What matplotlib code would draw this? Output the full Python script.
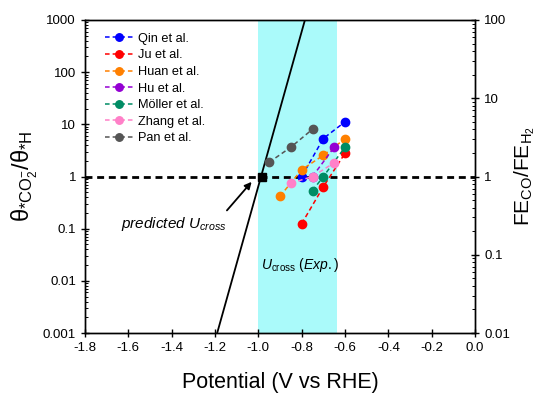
import matplotlib
matplotlib.use("Agg")
import matplotlib.pyplot as plt
from matplotlib.ticker import LogLocator, NullFormatter, FixedLocator

plt.rcParams['font.family'] = ['Liberation Sans', 'DejaVu Sans']
plt.rcParams['mathtext.fontset'] = 'custom'
plt.rcParams['mathtext.rm'] = 'Liberation Sans'
plt.rcParams['mathtext.it'] = 'Liberation Sans:italic'
plt.rcParams['mathtext.sf'] = 'Liberation Sans'

# ---- data ----
series_names = ["Qin et al.", "Ju et al.", "Huan et al.", "Hu et al.",
                "Möller et al.", "Zhang et al.", "Pan et al."]
series_colors = ["#0000FF", "#FF0000", "#FF8000", "#9400D3",
                 "#008C64", "#FF80C8", "#555555"]
qin_V = [-0.80, -0.70, -0.60];          qin_FE = [1.0, 3.06, 5.0]
ju_V = [-0.80, -0.70, -0.60];           ju_FE = [0.25, 0.74, 1.98]
huan_V = [-0.90, -0.80, -0.70, -0.60];  huan_FE = [0.56, 1.22, 1.87, 3.03]
hu_V = [-0.75, -0.65];                  hu_FE = [1.0, 2.37]
moller_V = [-0.75, -0.70, -0.60];       moller_FE = [0.66, 1.0, 2.37]
zhang_V = [-0.85, -0.75, -0.65];        zhang_FE = [0.82, 1.0, 1.50]
pan_V = [-0.95, -0.85, -0.75];          pan_FE = [1.52, 2.37, 4.02]

series_V = [qin_V, ju_V, huan_V, hu_V, moller_V, zhang_V, pan_V]
series_FE = [qin_FE, ju_FE, huan_FE, hu_FE, moller_FE, zhang_FE, pan_FE]

predicted_V = [-1.19, -0.785]
predicted_theta = [1e-3, 1e3]
ucross_pred_V = -0.985
ucross_pred_theta = 1.0
exp_band = [-1.0, -0.637]

x_ticks = [-1.8, -1.6, -1.4, -1.2, -1.0, -0.8, -0.6, -0.4, -0.2, 0.0]

fig = plt.figure(figsize=(5.39, 3.96), dpi=100)
ax = fig.add_axes([0.1577, 0.159, 0.7236, 0.7905])
ax2 = ax.twinx()

ax.set_xlim(-1.8, 0.0)
ax.set_yscale('log')
ax.set_ylim(1e-3, 1e3)
ax2.set_yscale('log')
ax2.set_ylim(1e-2, 1e2)

ax.axvspan(exp_band[0], exp_band[1], color='#AAFAFA', zorder=0, lw=0)
ax.axhline(1.0, color='black', lw=2.0, ls=(0, (2.5, 1.7)), zorder=2)
ax.plot(predicted_V, predicted_theta, color='black', lw=1.3, zorder=3)
ax.plot([ucross_pred_V], [ucross_pred_theta], 's', color='black', ms=6, zorder=4)

for name, c, v, fe in zip(series_names, series_colors, series_V, series_FE):
    ax2.plot(v, fe, ls=(0, (3, 2)), lw=1.1, color=c, marker='o', ms=6,
             mec=c, mfc=c, label=name, zorder=5)

ax2.legend(loc='upper left', bbox_to_anchor=(0.018, 1.0), frameon=False,
           fontsize=9.2, handlelength=2.3, handletextpad=0.3, labelspacing=0.36,
           borderaxespad=0.6, markerscale=0.9)

ax.annotate('', xy=(-1.031, 0.79), xytext=(-1.145, 0.224),
            arrowprops=dict(arrowstyle='-|>', color='black', lw=1.3,
                            mutation_scale=10, shrinkA=0, shrinkB=0))
ax.text(-1.145, 0.125, r'predicted $U_{cross}$', style='italic', fontsize=11,
        ha='right', va='center')
ax.text(-0.99, 0.02, r'$U_{\mathrm{cross}}$ $\it{(Exp.)}$', fontsize=10,
        ha='left', va='center')

ax.xaxis.set_major_locator(FixedLocator(x_ticks))
ax.set_xticklabels(['%.1f' % t for t in x_ticks])
ax.tick_params(axis='x', which='major', direction='inout', length=6, labelsize=9.5, width=1)
ax.tick_params(axis='y', which='major', direction='inout', length=6, labelsize=9.5, width=1)
ax.tick_params(axis='y', which='minor', direction='in', length=2.5, width=0.7)
ax2.tick_params(axis='y', which='major', direction='inout', length=6, labelsize=9.5, width=1)
ax2.tick_params(axis='y', which='minor', direction='in', length=2.5, width=0.7)

ax.set_yticks([1e-3, 1e-2, 1e-1, 1, 10, 100, 1000])
ax.set_yticklabels(['0.001', '0.01', '0.1', '1', '10', '100', '1000'])
ax.yaxis.set_minor_locator(LogLocator(base=10, subs=range(2, 10), numticks=20))
ax.yaxis.set_minor_formatter(NullFormatter())
ax2.set_yticks([1e-2, 1e-1, 1, 10, 100])
ax2.set_yticklabels(['0.01', '0.1', '1', '10', '100'])
ax2.yaxis.set_minor_locator(LogLocator(base=10, subs=range(2, 10), numticks=20))
ax2.yaxis.set_minor_formatter(NullFormatter())

ax.set_xlabel('Potential (V vs RHE)', fontsize=15.5, labelpad=13)
ax.set_ylabel(r'$\mathrm{\theta_{*CO_2^{-}}/\theta_{*H}}$', fontsize=17, labelpad=2)
ax2.set_ylabel(r'$\mathrm{FE_{CO}/FE_{H_2}}$', fontsize=15, labelpad=2)

for a in (ax, ax2):
    for s in a.spines.values():
        s.set_linewidth(1.0)

fig.savefig('out.png', dpi=100)
